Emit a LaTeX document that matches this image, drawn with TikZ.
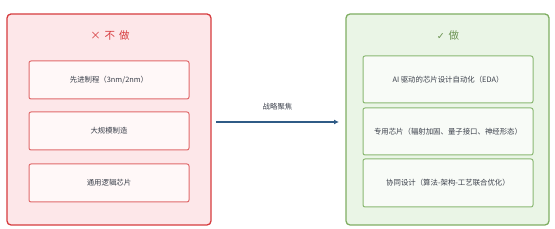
\documentclass[tikz,border=0pt]{standalone}
\usepackage{fontspec}
\setmainfont{Noto Sans CJK SC}
\newfontfamily\symfont{DejaVu Sans}
\usetikzlibrary{arrows.meta}
\definecolor{redborder}{HTML}{D63B3E}
\definecolor{redfill}{HTML}{FDE7E9}
\definecolor{redinner}{HTML}{E06A6C}
\definecolor{redinnerfill}{HTML}{FFF8F8}
\definecolor{greenborder}{HTML}{7FAE62}
\definecolor{greenfill}{HTML}{EAF5E6}
\definecolor{greeninner}{HTML}{8AB872}
\definecolor{greeninnerfill}{HTML}{F8FBF7}
\definecolor{arrowblue}{HTML}{2F5B86}
\definecolor{txt}{HTML}{3A3F4A}
\begin{document}
\begin{tikzpicture}[x=1pt,y=-1pt,
  outerbox/.style={rounded corners=4pt, line width=1.3pt},
  innerbox/.style={rounded corners=2pt, line width=1pt, text=txt, font=\fontsize{7.4}{9}\selectfont},
]
\useasboundingbox (0,0) rectangle (555,229);
% left panel
\draw[outerbox, draw=redborder, fill=redfill] (7,14) rectangle (211,225);
\node[text=redborder, font=\fontsize{10.5}{12}\selectfont] (lt) at (110,36) {×\hspace{4pt}不\hspace{4pt}做};
\draw[innerbox, draw=redinner, fill=redinnerfill] (29,61) rectangle (189,99) node[midway] (l1) {先进制程（3nm/2nm）};
\draw[innerbox, draw=redinner, fill=redinnerfill] (29,112) rectangle (189,150) node[midway] (l2) {大规模制造};
\draw[innerbox, draw=redinner, fill=redinnerfill] (29,164) rectangle (189,202) node[midway] (l3) {通用逻辑芯片};
% right panel
\draw[outerbox, draw=greenborder, fill=greenfill] (346,14) rectangle (549,225);
\node[text=greenborder!85!black, font=\fontsize{10.5}{12}\selectfont] (rt) at (448,36) {{\symfont\fontsize{9.5}{12}\selectfont ✓}\hspace{4pt}做};
\draw[innerbox, draw=greeninner, fill=greeninnerfill] (363,56) rectangle (533,103) node[midway] (r1) {AI 驱动的芯片设计自动化（EDA）};
\draw[innerbox, draw=greeninner, fill=greeninnerfill] (363,108) rectangle (533,155) node[midway] (r2) {专用芯片（辐射加固、量子接口、神经形态）};
\draw[innerbox, draw=greeninner, fill=greeninnerfill] (363,159) rectangle (533,207) node[midway] (r3) {协同设计（算法-架构-工艺联合优化）};
% arrow
\coordinate (a0) at (216,122);
\coordinate (a1) at (339,122);
\draw[arrowblue, line width=1.3pt, -{Latex[length=5pt,width=5pt]}] (a0) -- (a1) node[midway, above=8pt, text=txt, font=\fontsize{7.4}{9}\selectfont] (al) {战略聚焦};
\end{tikzpicture}
\end{document}
